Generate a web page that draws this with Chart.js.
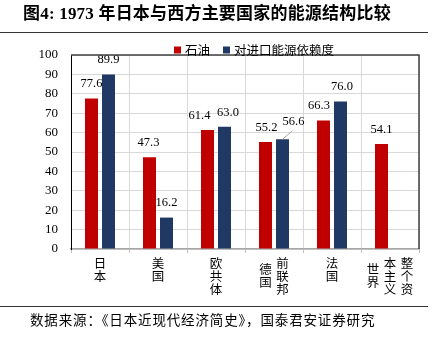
<!DOCTYPE html>
<html><head><meta charset="utf-8">
<script src="https://cdn.jsdelivr.net/npm/chart.js@4"></script>
<style>
html,body{margin:0;padding:0;background:#fff}
#wrap{position:relative;width:434px;height:342px;overflow:hidden;background:#fff}
#c{position:absolute;left:0;top:0;width:434px;height:342px}
.title{position:absolute;left:23px;top:4px;font-family:'Liberation Serif','Noto Sans CJK SC',serif;font-weight:bold;font-size:17px;line-height:20px;letter-spacing:0.2px;white-space:nowrap;color:#000}
.rule{position:absolute;left:0;width:428px;height:0;border-top:1.5px solid #333}
.src{position:absolute;left:30px;top:310px;font-family:'Noto Sans CJK SC',sans-serif;font-size:13.5px;line-height:18px;letter-spacing:0.85px;white-space:nowrap;color:#000}
</style></head>
<body>
<div id="wrap">
<canvas id="c" width="434" height="342"></canvas>
<div class="title">图4: 1973 年日本与西方主要国家的能源结构比较</div>
<div class="rule" style="top:32px"></div>
<div class="rule" style="top:306px"></div>
<div class="src">数据来源：《日本近现代经济简史》，国泰君安证券研究</div>
</div>
<script>
const categories = ['日本','美国','欧共体','前联邦德国','法国','整个资本主义世界'];
const seriesNames = ['石油','对进口能源依赖度'];
const oilShare = [77.6, 47.3, 61.4, 55.2, 66.3, 54.1];
const importDependence = [89.9, 16.2, 63.0, 56.6, 76.0, null];
const yMin = 0, yMax = 100, yStep = 10;

const colors = ['#c00000', '#1f3864'];
const numFont = "'Liberation Serif', 'Times New Roman', serif";
const cjkFont = "'Noto Sans CJK SC', sans-serif";

const framePlugin = {
  id: 'frame',
  afterDraw(chart) {
    const {ctx, chartArea: a} = chart;
    ctx.save();
    ctx.strokeStyle = '#404040';
    ctx.lineWidth = 1.5;
    ctx.beginPath();
    ctx.moveTo(a.left, a.top);
    ctx.lineTo(a.right, a.top);
    ctx.lineTo(a.right, a.bottom);
    ctx.stroke();
    ctx.restore();
  }
};

const legendPlugin = {
  id: 'customLegend',
  afterDraw(chart, args, opts) {
    const ctx = chart.ctx;
    ctx.save();
    ctx.font = '12.5px ' + cjkFont;
    ctx.textBaseline = 'middle';
    ctx.textAlign = 'left';
    let x = opts.x;
    const y = opts.y;
    chart.data.datasets.forEach((ds, i) => {
      ctx.fillStyle = ds.backgroundColor;
      ctx.fillRect(x, y - 3.5, 7, 7);
      x += 11;
      ctx.fillStyle = '#000';
      ctx.fillText(ds.label, x, y);
      x += ctx.measureText(ds.label).width + 13;
    });
    ctx.restore();
  }
};

const xLabelPlugin = {
  id: 'verticalXLabels',
  afterDraw(chart) {
    const ctx = chart.ctx;
    const xs = chart.scales.x;
    ctx.save();
    ctx.font = '12.5px ' + cjkFont;
    ctx.fillStyle = '#000';
    ctx.textAlign = 'center';
    ctx.textBaseline = 'middle';
    const colGap = 17, lineH = 13;
    chart.data.labels.forEach((lab, i) => {
      const cx = xs.getPixelForValue(i);
      const chars = Array.from(lab);
      const cols = [];
      for (let j = 0; j < chars.length; j += 3) cols.push(chars.slice(j, j + 3));
      const n = cols.length;
      const maxLen = Math.max(...cols.map(c => c.length));
      cols.forEach((col, k) => {
        const colX = cx + ((n - 1) / 2 - k) * colGap;
        const off = n > 1 ? (maxLen - col.length) * lineH / 2 : 0;
        col.forEach((ch, m) => {
          ctx.fillText(ch, colX, xs.top + 14 + off + m * lineH);
        });
      });
    });
    ctx.restore();
  }
};

const valueLabelPlugin = {
  id: 'valueLabels',
  afterDatasetsDraw(chart, args, opts) {
    const ctx = chart.ctx;
    ctx.save();
    ctx.font = '12.5px ' + numFont;
    ctx.fillStyle = '#000';
    ctx.textAlign = 'center';
    ctx.textBaseline = 'middle';
    chart.data.datasets.forEach((ds, di) => {
      const meta = chart.getDatasetMeta(di);
      meta.data.forEach((bar, i) => {
        const v = ds.data[i];
        if (v === null || v === undefined) return;
        const nd = (opts.nudge[i] && opts.nudge[i][di]) || [0, 0];
        const lx = bar.x + nd[0];
        const ly = bar.y - 14.5 + nd[1];
        ctx.fillText(v.toFixed(1), lx, ly);
        if (Math.hypot(nd[0], nd[1]) > 10) {
          ctx.strokeStyle = '#a6a6a6';
          ctx.lineWidth = 1;
          ctx.beginPath();
          ctx.moveTo(bar.x, bar.y);
          ctx.lineTo(lx - 1, ly + 9);
          ctx.stroke();
        }
      });
    });
    ctx.restore();
  }
};

new Chart(document.getElementById('c'), {
  type: 'bar',
  data: {
    labels: categories,
    datasets: [
      {label: seriesNames[0], data: oilShare, backgroundColor: colors[0]},
      {label: seriesNames[1], data: importDependence, backgroundColor: colors[1]}
    ]
  },
  options: {
    responsive: false,
    animation: false,
    layout: {padding: {left: 0, right: 15, top: 55, bottom: 0}},
    datasets: {bar: {categoryPercentage: 0.586, barPercentage: 0.765}},
    plugins: {
      legend: {display: false},
      tooltip: {enabled: false},
      customLegend: {x: 174, y: 50},
      valueLabels: {
        nudge: [
          [[0, 0], [0, 0]],
          [[-1, 0], [0, 0]],
          [[-8, 0], [3.5, 0]],
          [[1, 0], [11, -3]],
          [[-4.5, 0], [1.5, 0]],
          [[0, 0], [0, 0]]
        ]
      }
    },
    scales: {
      x: {
        grid: {color: '#d9d9d9', offset: true, drawTicks: true, tickLength: 4, tickColor: '#bfbfbf', lineWidth: 1},
        border: {color: '#a6a6a6', width: 1.5},
        ticks: {display: false},
        afterFit(s) { s.height = 93; }
      },
      y: {
        min: yMin, max: yMax,
        grid: {color: '#d9d9d9', drawTicks: false, lineWidth: 1},
        border: {color: '#000', width: 1},
        ticks: {stepSize: yStep, padding: 13, color: '#000', font: {family: numFont, size: 13}},
        afterFit(s) { s.width = 71; }
      }
    }
  },
  plugins: [framePlugin, legendPlugin, xLabelPlugin, valueLabelPlugin]
});
</script>
</body></html>
